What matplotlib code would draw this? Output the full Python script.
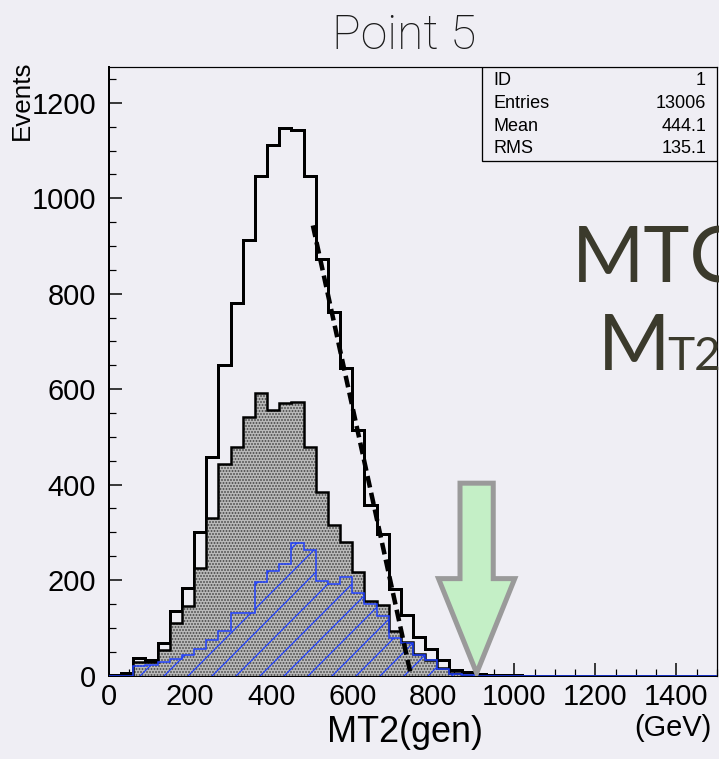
import numpy as np
import matplotlib
matplotlib.use("Agg")
import matplotlib.pyplot as plt
from matplotlib.patches import Polygon, Rectangle
from matplotlib.ticker import MultipleLocator

# 50 bins of 30 GeV from 0 to 1500
bin_edges = np.linspace(0, 1500, 51)

# all events (black outline)
total_counts = [2, 5, 36, 33, 68, 135, 183, 301, 458, 651,
                780, 912, 1046, 1111, 1148, 1144, 1046, 872, 762, 645,
                515, 357, 297, 182, 127, 80, 55, 32, 12, 8,
                4, 2, 1, 1, 0, 0, 0, 0, 0, 0,
                0, 0, 0, 0, 0, 0, 0, 0, 0, 0]

# gray dotted histogram
gray_counts = [0, 2, 28, 28, 54, 110, 145, 225, 329, 444,
               478, 541, 592, 557, 572, 573, 478, 384, 316, 280,
               216, 157, 147, 94, 71, 45, 33, 15, 5, 2,
               0, 0, 0, 0, 0, 0, 0, 0, 0, 0,
               0, 0, 0, 0, 0, 0, 0, 0, 0, 0]

# blue hatched histogram
blue_counts = [0, 0, 19, 22, 28, 34, 43, 56, 74, 93,
               132, 132, 195, 220, 233, 277, 263, 197, 192, 206,
               173, 150, 125, 78, 69, 43, 32, 14, 4, 2,
               0, 0, 0, 0, 0, 0, 0, 0, 0, 0,
               0, 0, 0, 0, 0, 0, 0, 0, 0, 0]

# linear endpoint fit
fit_x = [503, 745]
fit_y = [943, 0]

stat_names = ["ID", "Entries", "Mean", "RMS"]
stat_values = ["1", "13006", "444.1", "135.1"]

x_ticks = [0, 200, 400, 600, 800, 1000, 1200, 1400]
y_ticks = [0, 200, 400, 600, 800, 1000, 1200]

bg = "#efeef4"
root_font = "Liberation Sans"

plt.rcParams["hatch.linewidth"] = 1.2

fig = plt.figure(figsize=(719 / 72, 759 / 72), dpi=72)
fig.patch.set_facecolor(bg)
ax = fig.add_axes([0.1516, 0.11, 0.8456, 0.8017])
ax.set_facecolor(bg)

ax.stairs(total_counts, bin_edges, color="black", lw=3, zorder=2)
ax.stairs(gray_counts, bin_edges, fill=True, facecolor="#b9b9b9",
          edgecolor="#444444", hatch="....", lw=0, zorder=3)
ax.stairs(gray_counts, bin_edges, color="black", lw=2.5, zorder=4)
ax.stairs(blue_counts, bin_edges, fill=True, facecolor="none",
          edgecolor="#2040ff", hatch="/", lw=0, zorder=5)
ax.stairs(blue_counts, bin_edges, color="#2040ff", lw=1.5, zorder=6)
ax.plot(fit_x, fit_y, color="black", lw=4.5, ls=(0, (2.6, 1.2)),
        solid_capstyle="butt", zorder=7)

# green arrow marking the endpoint
arrow_x = 907
shaft_hw, head_hw = 41, 94
shaft_top, head_base, tip_y = 403, 203, 5
arrow = Polygon([(arrow_x - shaft_hw, shaft_top), (arrow_x + shaft_hw, shaft_top),
                 (arrow_x + shaft_hw, head_base), (arrow_x + head_hw, head_base),
                 (arrow_x, tip_y), (arrow_x - head_hw, head_base),
                 (arrow_x - shaft_hw, head_base)],
                closed=True, facecolor="#c4efc6", edgecolor="#9a9a9a", lw=5,
                joinstyle="miter", zorder=8)
ax.add_patch(arrow)

ax.set_xlim(0, 1500)
ax.set_ylim(0, 1275)
ax.set_xticks(x_ticks)
ax.set_yticks(y_ticks)
ax.xaxis.set_minor_locator(MultipleLocator(50))
ax.yaxis.set_minor_locator(MultipleLocator(50))
ax.tick_params(which="major", direction="in", length=13, width=1.5,
               labelsize=29, top=False, right=False)
ax.tick_params(which="minor", direction="in", length=7, width=1.2,
               top=False, right=False)
ax.tick_params(axis="y", pad=13)
ax.tick_params(axis="x", pad=7)
for lab in ax.get_xticklabels() + ax.get_yticklabels():
    lab.set_family(root_font)
for side in ["left", "bottom"]:
    ax.spines[side].set_linewidth(2)
for side in ["top", "right"]:
    ax.spines[side].set_linewidth(1.2)

# stats box
ax.add_patch(Rectangle((0.613, 0.8455), 0.387, 0.1545, transform=ax.transAxes,
                       facecolor=bg, edgecolor="black", lw=1.3, zorder=9))
row_y = [0.9786, 0.9408, 0.903, 0.8653]
for name, val, yy in zip(stat_names, stat_values, row_y):
    ax.text(0.633, yy, name, transform=ax.transAxes, ha="left", va="center",
            fontsize=18, family=root_font, zorder=10)
    ax.text(0.982, yy, val, transform=ax.transAxes, ha="right", va="center",
            fontsize=18, family=root_font, zorder=10)

fig.text(404 / 719, 1 - 36 / 759, "Point 5", ha="center", va="center",
         fontsize=48, family="Roboto", fontweight="light", color="#1a1a1a")
fig.text(22 / 719, 1 - 100 / 759, "Events", rotation=90, ha="center",
         va="center", fontsize=26, family=root_font)
fig.text(405 / 719, 1 - 733 / 759, "MT2(gen)", ha="center", va="center",
         fontsize=36, family=root_font)
fig.text(712 / 719, 1 - 728 / 759, "(GeV)", ha="right", va="center",
         fontsize=29, family=root_font)

# slide text behind the plot, cut by the right edge
slide_col = "#3b3a2c"
fig.text(572 / 719, 1 - 283 / 759, "MTC", ha="left", va="baseline",
         fontsize=78, family="Lato", color=slide_col)
fig.text(598 / 719, 1 - 370 / 759, "M", ha="left", va="baseline",
         fontsize=78, family="Lato", color=slide_col)
fig.text(667 / 719, 1 - 370 / 759, "T2", ha="left", va="baseline",
         fontsize=46, family="Lato", color=slide_col)

fig.savefig("out.png", dpi=72, facecolor=bg)
